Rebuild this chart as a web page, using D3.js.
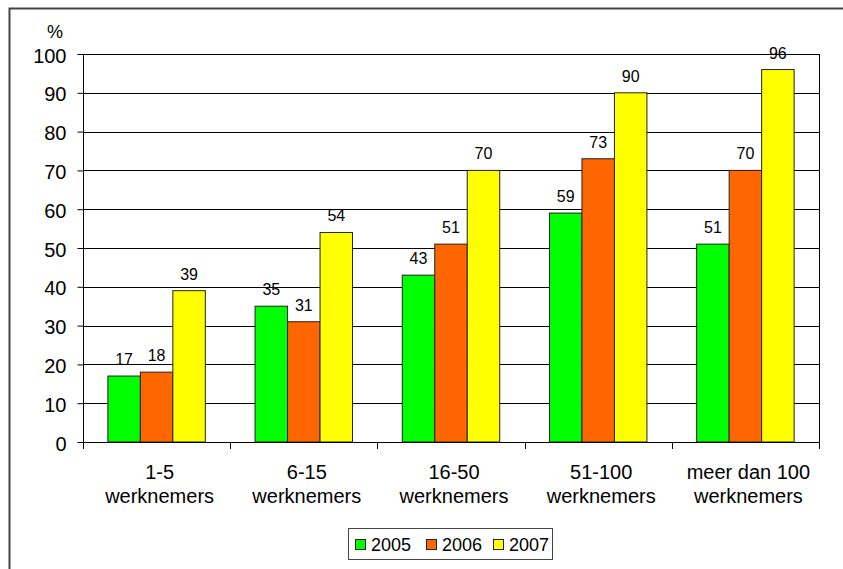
<!DOCTYPE html>
<html><head><meta charset="utf-8">
<script src="https://cdn.jsdelivr.net/npm/d3@7"></script>
<style>body{margin:0;background:#fff}svg{display:block;font-family:Arial,"Liberation Sans",sans-serif}</style>
</head><body><svg id="c" width="843" height="569"></svg>
<script>
const categories = [["1-5","werknemers"],["6-15","werknemers"],["16-50","werknemers"],["51-100","werknemers"],["meer dan 100","werknemers"]];
const years = ["2005","2006","2007"];
const v2005 = [17,35,43,59,51];
const v2006 = [18,31,51,73,70];
const v2007 = [39,54,70,90,96];
const yTicks = [0,10,20,30,40,50,60,70,80,90,100];
const colors = ["#00FF00","#FF6600","#FFFF00"];
const series = [v2005,v2006,v2007];

const svg = d3.select("#c");
// outer frame
svg.append("path").attr("d","M9.5,569 V8.5 H843").attr("fill","none").attr("stroke","#444").attr("stroke-width",2);

const L=83, R=819, T=54, B=442;
const x0 = d3.scaleBand().domain(d3.range(categories.length)).range([L,R]).paddingInner(0.338).paddingOuter(0.169);
const bw = x0.bandwidth()/3;
const y = d3.scaleLinear().domain([0,100]).range([B,T]);

// gridlines
svg.append("g").selectAll("line").data(yTicks.filter(d=>d>0)).join("line")
  .attr("x1",L).attr("x2",R).attr("y1",d=>Math.round(y(d))+0.5).attr("y2",d=>Math.round(y(d))+0.5)
  .attr("stroke","#000").attr("stroke-width",1);
// right border
svg.append("line").attr("x1",R+0.5).attr("x2",R+0.5).attr("y1",T).attr("y2",B).attr("stroke","#000");

// bars
const g = svg.append("g");
series.forEach((s,si)=>{
  g.selectAll(null).data(s).join("rect")
    .attr("x",(d,i)=>x0(i)+si*bw).attr("y",d=>y(d)).attr("width",bw).attr("height",d=>B-y(d))
    .attr("fill",colors[si]).attr("stroke","#222").attr("stroke-width",1);
  g.selectAll(null).data(s).join("text")
    .attr("x",(d,i)=>x0(i)+si*bw+bw/2).attr("y",d=>y(d)-11)
    .attr("text-anchor","middle").attr("font-size",16).text(d=>d);
});

// y axis
const ya = d3.axisLeft(y).tickValues(yTicks).tickSize(6).tickPadding(11);
const yg = svg.append("g").attr("transform",`translate(${L+0.5},0)`).call(ya);
yg.select(".domain").attr("d",`M0,${T}V${B}`).attr("stroke","#000");
yg.selectAll("text").attr("font-size",20).attr("fill","#000").attr("dy","0.4em").attr("font-family","Arial,'Liberation Sans',sans-serif");
svg.append("text").attr("x",55).attr("y",38).attr("text-anchor","middle").attr("font-size",18).text("%");

// x axis
const xBound = d3.scaleLinear().domain([0,categories.length]).range([L,R]);
const xg = svg.append("g");
xg.append("line").attr("x1",L).attr("x2",R+1).attr("y1",B+0.5).attr("y2",B+0.5).attr("stroke","#000");
xg.selectAll(".tk").data(d3.range(categories.length+1)).join("line")
  .attr("x1",d=>Math.round(xBound(d))+0.5).attr("x2",d=>Math.round(xBound(d))+0.5)
  .attr("y1",B).attr("y2",B+7).attr("stroke","#000");
xg.selectAll(".cl").data(categories).join("text")
  .attr("text-anchor","middle").attr("font-size",20)
  .attr("transform",(d,i)=>`translate(${(xBound(i)+xBound(i+1))/2+3},0)`)
  .each(function(d){
    d3.select(this).selectAll("tspan").data(d).join("tspan")
      .attr("x",0).attr("y",(t,j)=>479+j*24).text(t=>t);
  });

// legend
const lg = svg.append("g");
lg.append("rect").attr("x",348.5).attr("y",528.5).attr("width",204).attr("height",31).attr("fill","#fff").attr("stroke","#444");
const lx = [355,426,493];
years.forEach((yr,i)=>{
  lg.append("rect").attr("x",lx[i]+0.5).attr("y",539.5).attr("width",10).attr("height",10).attr("fill",colors[i]).attr("stroke","#222");
  lg.append("text").attr("x",lx[i]+16).attr("y",551).attr("font-size",18).text(yr);
});
</script></body></html>
